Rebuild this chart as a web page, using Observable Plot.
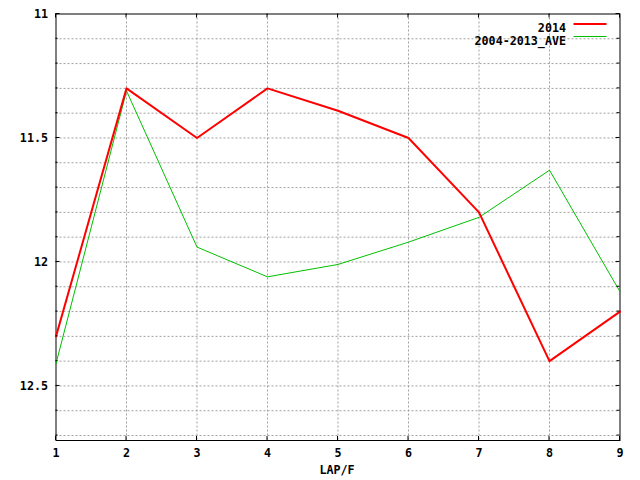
<!DOCTYPE html>
<html>
<head>
<meta charset="utf-8">
<script src="https://cdn.jsdelivr.net/npm/d3@7"></script>
<script src="https://cdn.jsdelivr.net/npm/@observablehq/plot@0.6"></script>
<style>
  body { margin: 0; background: #fff; }
  #chart svg { display: block; }
</style>
</head>
<body>
<div id="chart"></div>
<script>
const laps = [1, 2, 3, 4, 5, 6, 7, 8, 9];
const series2014 = [12.30, 11.30, 11.50, 11.30, 11.39, 11.50, 11.80, 12.40, 12.20];
const seriesAve = [12.41, 11.31, 11.94, 12.06, 12.01, 11.92, 11.82, 11.63, 12.12];
const seriesNames = ["2014", "2004-2013_AVE"];
const yMajorTicks = [11, 11.5, 12, 12.5];
const yMinorTicks = [11.1, 11.2, 11.3, 11.4, 11.6, 11.7, 11.8, 11.9, 12.1, 12.2, 12.3, 12.4, 12.6, 12.7];
const xGridTicks = [2, 3, 4, 5, 6, 7, 8];
const xLabel = "LAP/F";

const rows2014 = laps.map((lap, i) => ({lap, time: series2014[i]}));
const rowsAve = laps.map((lap, i) => ({lap, time: seriesAve[i]}));

const font = "'DejaVu Sans Mono', monospace";
const gridStyle = {stroke: "#a0a0a0", strokeOpacity: 1, strokeDasharray: "2,2", strokeWidth: 1};

const M = {left: 55.5, right: 20.5, top: 13.5, bottom: 40};

const chart = Plot.plot({
  width: 640,
  height: 480,
  marginLeft: M.left,
  marginRight: M.right,
  marginTop: M.top,
  marginBottom: M.bottom,
  style: {fontFamily: font, fontSize: "11.7px", fontWeight: "bold", background: "#fff", color: "#000"},
  x: {domain: [1, 9]},
  y: {domain: [11, 12.72], reverse: true},
  marks: [
    Plot.gridX(xGridTicks, gridStyle),
    Plot.gridY(yMinorTicks.concat([11.5, 12, 12.5]), gridStyle),
    Plot.frame({stroke: "#000", strokeWidth: 1}),
    Plot.axisY(yMajorTicks, {anchor: "left", tickSize: 0, tickPadding: 8, tickFormat: d => String(d), fill: "#000", label: null}),
    Plot.axisX(laps, {anchor: "bottom", tickSize: 0, tickPadding: 8, tickFormat: d => String(d), fill: "#000", label: null}),
    Plot.text([xLabel], {frameAnchor: "bottom", dy: 33, dx: -1, fill: "#000"}),
    Plot.line(rowsAve, {x: "lap", y: "time", stroke: "#00c000", strokeWidth: 1}),
    Plot.line(rows2014, {x: "lap", y: "time", stroke: "#ff0000", strokeWidth: 2}),
    Plot.text([seriesNames[0]], {frameAnchor: "top-right", textAnchor: "end", dx: -54, dy: 10, fill: "#000"}),
    Plot.text([seriesNames[1]], {frameAnchor: "top-right", textAnchor: "end", dx: -54, dy: 23, fill: "#000"})
  ]
});

const svg = d3.select(chart);
const xs = chart.scale("x"), ys = chart.scale("y");
const L = M.left, R = 640 - M.right, T = M.top, B = 480 - M.bottom;

// inward tick marks on all four sides (gnuplot style)
const ticks = svg.append("g").attr("stroke", "#000").attr("stroke-width", 1);
yMajorTicks.forEach(v => {
  const y = ys.apply(v);
  ticks.append("line").attr("x1", L).attr("x2", L + 4).attr("y1", y).attr("y2", y);
  ticks.append("line").attr("x1", R - 4).attr("x2", R).attr("y1", y).attr("y2", y);
});
yMinorTicks.forEach(v => {
  const y = ys.apply(v);
  ticks.append("line").attr("x1", L).attr("x2", L + 2).attr("y1", y).attr("y2", y);
  ticks.append("line").attr("x1", R - 3).attr("x2", R).attr("y1", y).attr("y2", y);
});
laps.forEach(v => {
  const x = xs.apply(v);
  ticks.append("line").attr("x1", x).attr("x2", x).attr("y1", T).attr("y2", T + 4);
  ticks.append("line").attr("x1", x).attr("x2", x).attr("y1", B - 4).attr("y2", B);
});

// legend sample lines
const legendX1 = R - 46, legendX2 = R - 13;
svg.append("line").attr("x1", legendX1).attr("x2", legendX2).attr("y1", 24).attr("y2", 24)
  .attr("stroke", "#ff0000").attr("stroke-width", 2);
svg.append("line").attr("x1", legendX1).attr("x2", legendX2).attr("y1", 36.5).attr("y2", 36.5)
  .attr("stroke", "#00c000").attr("stroke-width", 1);

document.getElementById("chart").appendChild(chart);
</script>
</body>
</html>
